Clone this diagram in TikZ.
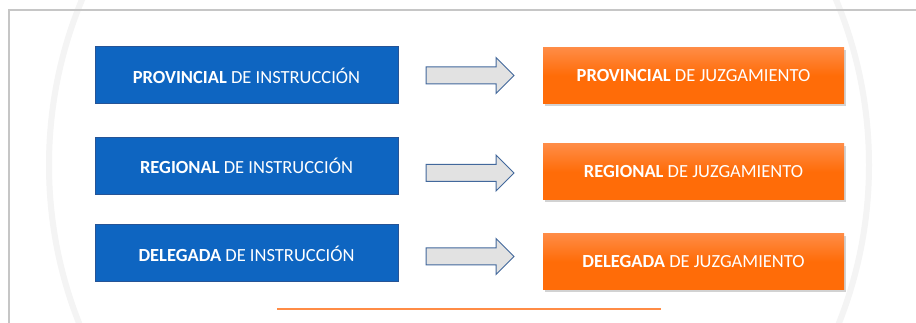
\documentclass[tikz,border=0pt]{standalone}
\usepackage{fontspec}
\setmainfont{Carlito}
\usetikzlibrary{shapes.arrows,shadows,calc}

\definecolor{fiscblue}{RGB}{14,101,193}
\definecolor{fiscedge}{RGB}{38,84,150}
\definecolor{juzorange}{RGB}{255,108,8}
\definecolor{juztop}{RGB}{255,140,70}
\definecolor{arrowfill}{RGB}{226,226,226}
\definecolor{arrowedge}{RGB}{66,104,156}

\tikzset{
  instbox/.style={draw=fiscedge, line width=1pt, fill=fiscblue, text=white,
    minimum width=303pt, minimum height=57pt, inner sep=0pt,
    font=\fontsize{18.5}{22}\selectfont},
  juzbox/.style={top color=juztop, bottom color=juzorange, middle color=juzorange,
    text=white, minimum width=301pt, minimum height=56pt, inner sep=0pt,
    drop shadow={shadow xshift=1.5pt, shadow yshift=-2.5pt, opacity=.35},
    font=\fontsize{18.5}{22}\selectfont},
  paso/.style={single arrow, draw=arrowedge, fill=arrowfill, line width=1pt,
    minimum height=88pt, inner sep=0pt, inner ysep=8pt, text width=0pt,
    single arrow head extend=9.5pt, anchor=tail}
}

\begin{document}
\begin{tikzpicture}[x=1pt,y=-1pt]
\clip (0,0) rectangle (916,323);
\useasboundingbox (0,0) rectangle (916,323);
\fill[white] (0,0) rectangle (916,323);

% marco y circulo de fondo
\draw[gray!9, line width=6pt] (459,165) ellipse (410 and 420);
\draw[gray!45, line width=1.5pt] (9,10) rectangle (940,360);

% fiscalias de instruccion
\node[instbox] (bprov) at (246.5,75.5) {\textbf{PROVINCIAL} DE INSTRUCCIÓN};
\node[instbox] (breg)  at (246.5,166)  {\textbf{REGIONAL} DE INSTRUCCIÓN};
\node[instbox] (bdel)  at (246.5,253.5) {\textbf{DELEGADA} DE INSTRUCCIÓN};

% fiscalias de juzgamiento
\node[juzbox] (oprov) at (693.5,75.5) {\textbf{PROVINCIAL} DE JUZGAMIENTO};
\node[juzbox] (oreg)  at (693.5,172)  {\textbf{REGIONAL} DE JUZGAMIENTO};
\node[juzbox] (odel)  at (693.5,261.5) {\textbf{DELEGADA} DE JUZGAMIENTO};

% flechas
\node[paso] (aprov) at ($(bprov.east)+(27,0)$) {};
\node[paso] (areg)  at ($(breg.east |- oreg.west)+(27,1)$) {};
\node[paso] (adel)  at ($(bdel.east)+(27,3)$) {};

% linea inferior
\draw[juztop, line width=2pt] (277,309) -- (661,309);

\end{tikzpicture}
\end{document}
